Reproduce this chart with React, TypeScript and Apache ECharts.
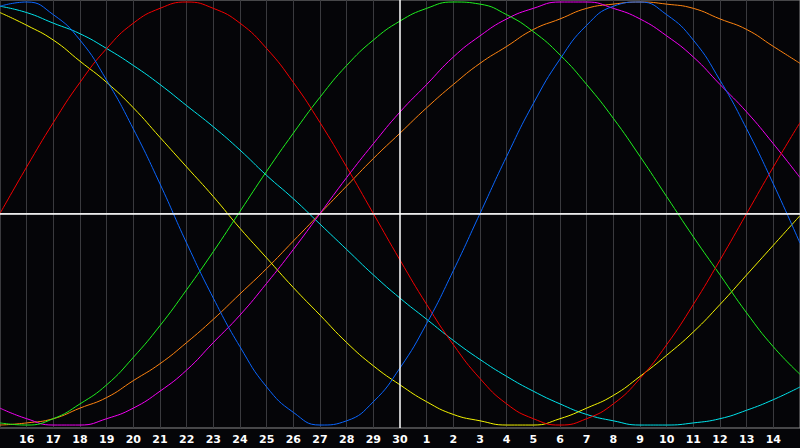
import React, { useEffect, useRef } from 'react';
import * as echarts from 'echarts';

// day labels, from the 15th to the 15th of the next month
const days = [
  '15', '16', '17', '18', '19', '20', '21', '22', '23', '24', '25', '26', '27', '28', '29', '30',
  '1', '2', '3', '4', '5', '6', '7', '8', '9', '10', '11', '12', '13', '14', '15',
];

// cycle values (-1 .. 1), one per day
const physical = [0.98, 1.0, 0.94, 0.82, 0.63, 0.4, 0.14, -0.14, -0.4, -0.63, -0.82, -0.94, -1.0, -0.98, -0.89, -0.73, -0.52, -0.27, 0, 0.27, 0.52, 0.73, 0.89, 0.98, 1.0, 0.94, 0.82, 0.63, 0.4, 0.14, -0.14];
const emotional = [0, 0.22, 0.43, 0.62, 0.78, 0.9, 0.97, 1.0, 0.97, 0.9, 0.78, 0.62, 0.43, 0.22, 0, -0.22, -0.43, -0.62, -0.78, -0.9, -0.97, -1.0, -0.97, -0.9, -0.78, -0.62, -0.43, -0.22, 0, 0.22, 0.43];
const intellectual = [-0.99, -1.0, -0.97, -0.9, -0.81, -0.68, -0.53, -0.36, -0.18, 0.01, 0.2, 0.38, 0.55, 0.7, 0.82, 0.91, 0.97, 1.0, 0.99, 0.94, 0.86, 0.75, 0.61, 0.45, 0.27, 0.08, -0.11, -0.29, -0.47, -0.63, -0.76];
const intuitive = [-0.92, -0.97, -1.0, -1.0, -0.97, -0.92, -0.84, -0.74, -0.61, -0.48, -0.33, -0.17, 0, 0.17, 0.33, 0.48, 0.61, 0.74, 0.84, 0.92, 0.97, 1.0, 1.0, 0.97, 0.92, 0.84, 0.74, 0.61, 0.48, 0.33, 0.17];
const aesthetic = [0.95, 0.89, 0.82, 0.72, 0.62, 0.5, 0.36, 0.22, 0.08, -0.07, -0.21, -0.35, -0.48, -0.61, -0.72, -0.81, -0.89, -0.95, -0.98, -1.0, -1.0, -0.97, -0.92, -0.86, -0.77, -0.67, -0.56, -0.43, -0.29, -0.15, -0.01];
const awareness = [-1.0, -0.99, -0.97, -0.92, -0.87, -0.79, -0.71, -0.61, -0.5, -0.38, -0.26, -0.13, 0, 0.13, 0.26, 0.38, 0.5, 0.61, 0.71, 0.79, 0.87, 0.92, 0.97, 0.99, 1.0, 0.99, 0.97, 0.92, 0.87, 0.79, 0.71];
const spiritual = [0.98, 0.95, 0.9, 0.85, 0.78, 0.7, 0.61, 0.51, 0.41, 0.3, 0.18, 0.07, -0.05, -0.17, -0.29, -0.4, -0.5, -0.6, -0.69, -0.77, -0.84, -0.9, -0.95, -0.98, -1.0, -1.0, -0.99, -0.97, -0.93, -0.88, -0.82];

const cycles = [
  { name: 'Spiritual', data: spiritual, color: '#00e4ec' },
  { name: 'Awareness', data: awareness, color: '#ff8410' },
  { name: 'Aesthetic', data: aesthetic, color: '#f4f400' },
  { name: 'Intuitive', data: intuitive, color: '#f400f4' },
  { name: 'Intellectual', data: intellectual, color: '#1ef01e' },
  { name: 'Emotional', data: emotional, color: '#f40000' },
  { name: 'Physical', data: physical, color: '#0a66ff' },
];

const TODAY_INDEX = 15;

const App: React.FC = () => {
  const chartRef = useRef<HTMLDivElement>(null);

  useEffect(() => {
    document.body.style.margin = '0';
    document.body.style.background = '#050508';
    if (!chartRef.current) return;
    const chart = echarts.init(chartRef.current, null, { renderer: 'svg' });

    const option = {
      animation: false,
      backgroundColor: '#050508',
      grid: {
        left: 0,
        right: 0,
        top: 0,
        height: 428,
        show: true,
        borderColor: '#8a8a8a',
        borderWidth: 1,
        backgroundColor: '#050508',
      },
      xAxis: {
        type: 'category',
        data: days,
        boundaryGap: false,
        axisTick: { show: false },
        axisLine: { show: true, lineStyle: { color: '#b0b0b0', width: 1 } },
        axisLabel: {
          interval: (i: number) => i > 0 && i < days.length - 1,
          color: '#ffffff',
          fontFamily: 'DejaVu Sans',
          fontWeight: 'bold',
          fontSize: 11,
          margin: 6,
        },
        splitLine: {
          show: true,
          interval: (i: number) => i !== TODAY_INDEX,
          lineStyle: { color: '#3a3a3e', width: 1 },
        },
      },
      yAxis: {
        type: 'value',
        min: -1.014,
        max: 1.0095,
        show: false,
        splitLine: { show: false },
      },
      series: cycles.map((c, i) => ({
        name: c.name,
        type: 'line',
        data: c.data,
        smooth: true,
        symbol: 'none',
        lineStyle: { color: c.color, width: 1 },
        ...(i === 0
          ? {
              markLine: {
                silent: true,
                symbol: 'none',
                label: { show: false },
                lineStyle: { color: '#ffffff', width: 1.5, type: 'solid' },
                data: [{ yAxis: 0 }, { xAxis: TODAY_INDEX }],
              },
            }
          : {}),
      })),
    };

    chart.setOption(option);
    return () => {
      chart.dispose();
    };
  }, []);

  return <div ref={chartRef} style={{ width: 800, height: 448, background: '#050508' }} />;
};

export default App;
